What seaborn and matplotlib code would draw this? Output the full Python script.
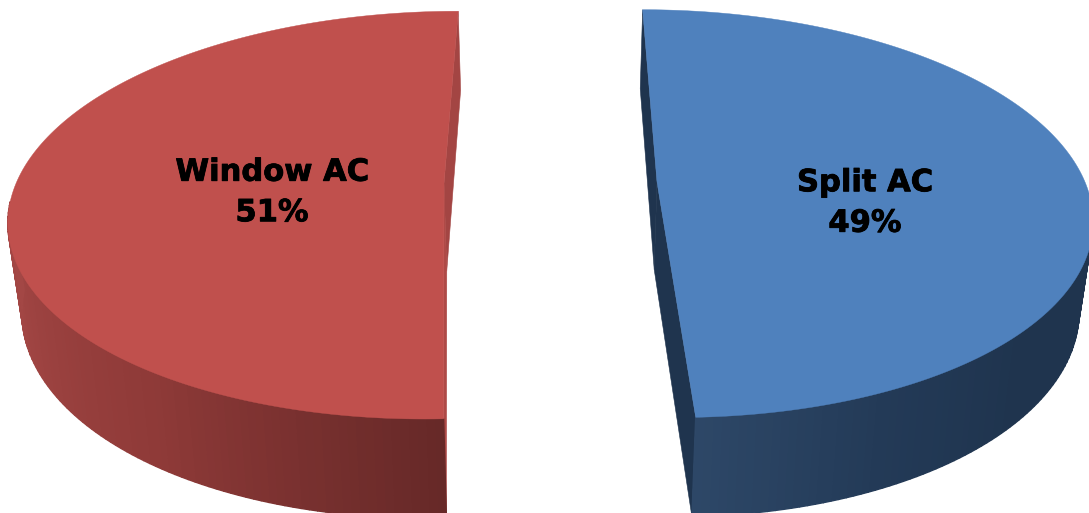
import numpy as np
import matplotlib
matplotlib.use('Agg')
import matplotlib.pyplot as plt
import matplotlib.patheffects as pe
from matplotlib.patches import Polygon
import seaborn as sns

# Data
categories = ['Split AC', 'Window AC']
shares = [49.4, 50.6]

# Look of each slice, same order as categories
top_colors = ['#4F81BD', '#C0504D']
back_wall_colors = ['#1F344E', '#A34543']
front_wall_colors = ['#1F344E', '#AE4A47']
rim_stops = [
    ['#2D4767', '#233A57', '#1F344E', '#1F344E', '#1F344E', '#1F344E', '#1F344E', '#1F344E', '#1F344E'],
    ['#672928', '#8F3A38', '#A24644', '#A44846', '#A44846', '#A44846'],
]
label_pos = [(865, 203), (272, 192.5)]
apex_pos = [(657, 182), (444, 183.5)]

# Perspective of the pie, in pixels
AXIS_X = 550
RX = 428
RY = 199
TILT = 0.155

sns.set_theme(style='white')
fig, ax = plt.subplots(figsize=(10.89, 5.13), dpi=100)
ax.set_position([0, 0, 1, 1])
ax.set_xlim(0, 1089)
ax.set_ylim(513, 0)
ax.axis('off')


def top_point(apex, angle):
    # angle in radians, clockwise from the back of the pie
    u, v = np.sin(angle), np.cos(angle)
    d = 1 + TILT * v
    x = AXIS_X + (apex[0] - AXIS_X + RX * u) / d
    y = apex[1] - RY * v / d
    return x, y


def drop(x, y):
    # same point on the underside of the pie
    return AXIS_X + (x - AXIS_X) * 0.974, y + 78.5 + 0.05 * y


def draw_quad(p1, p2, color, z, lw=0.4):
    q1, q2 = drop(*p1), drop(*p2)
    ax.add_patch(Polygon([p1, p2, q2, q1], closed=True, facecolor=color,
                         edgecolor=color, linewidth=lw, zorder=z))


start = 0.0
for i, share in enumerate(shares):
    end = start + 2 * np.pi * share / sum(shares)
    apex = apex_pos[i]
    p_start = top_point(apex, start)
    p_end = top_point(apex, end)

    # Cut walls facing the gap
    draw_quad(p_start if i == 0 else p_end, apex, back_wall_colors[i], 1)
    draw_quad(apex, p_end if i == 0 else p_start, front_wall_colors[i], 1)

    # Outer wall, shaded along the rim; wide edges hide the seams
    angles = np.linspace(start, end, 181)
    rim = sns.blend_palette(rim_stops[i], n_colors=len(angles) - 1)
    if i == 0:
        rim = rim[::-1]
    for j in range(len(angles) - 1):
        # the back of the rim is hidden behind the top face
        if np.cos(angles[j]) < -0.1:
            draw_quad(top_point(apex, angles[j]), top_point(apex, angles[j + 1]), rim[j], 2, lw=1.0)

    # Top face
    outline = [top_point(apex, a) for a in angles]
    ax.add_patch(Polygon([apex] + outline, closed=True, facecolor=top_colors[i],
                         edgecolor=top_colors[i], linewidth=0.3, zorder=3))

    ax.text(label_pos[i][0], label_pos[i][1],
            f'{categories[i]}\n{round(share):d}%',
            ha='center', va='center', color='black', fontsize=22,
            fontweight='bold', linespacing=1.5, zorder=4,
            path_effects=[pe.withStroke(linewidth=0.6, foreground='black')])
    start = end

plt.savefig('out.png', dpi=100)
plt.close()
